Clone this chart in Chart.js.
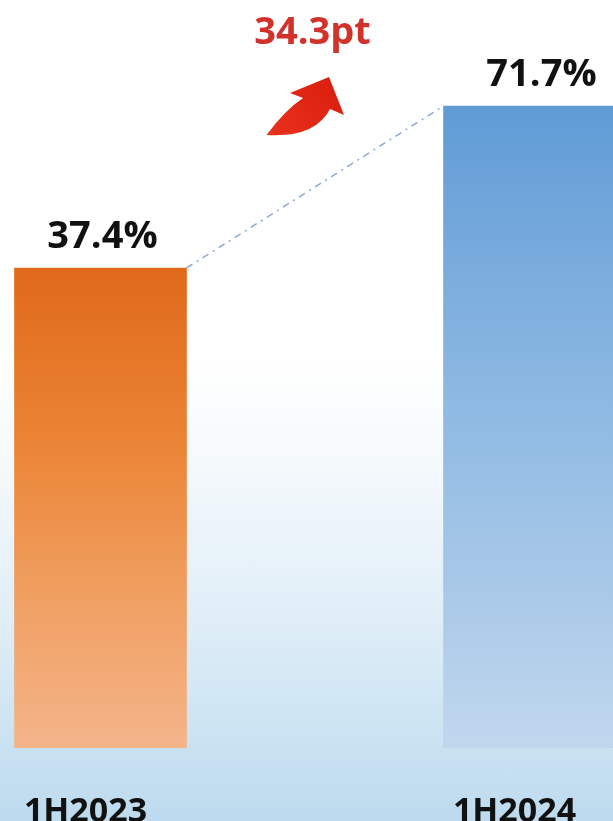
<!DOCTYPE html>
<html>
<head>
<meta charset="utf-8">
<script src="https://cdn.jsdelivr.net/npm/chart.js@4/dist/chart.umd.min.js"></script>
<style>
  html, body { margin: 0; padding: 0; }
  #frame {
    position: relative;
    width: 613px;
    height: 821px;
    overflow: hidden;
    background: linear-gradient(to bottom, #ffffff 0%, #ffffff 44%, #f4f9fc 57%, #e0eef8 75%, #c9e2f2 91%, #bddaee 100%);
  }
  #rateChart { position: absolute; left: -114.5px; top: 0; }
</style>
</head>
<body>
<div id="frame">
  <canvas id="rateChart" width="858" height="821"></canvas>
</div>
<script>
// half-year values
const periods = ['1H2023', '1H2024'];
const rates = [37.4, 71.7];
const rateLabels = ['37.4%', '71.7%'];
const changeLabel = '34.3pt';

// hidden value axis range
const Y_MIN = -64.25;
const Y_MAX = 94.15;

Chart.defaults.font.family = "'Open Sans', 'Noto Sans', sans-serif";

const barStops = [
    [[0, '#dc5f12'], [0.36, '#e0691b'], [0.6, '#eb8537'], [0.8, '#f0a062'], [1, '#f4b48a']],
    [[0, '#5593d2'], [0.14, '#5f9bd6'], [0.36, '#7aacdd'], [0.6, '#94bde4'], [0.8, '#aac9e8'], [1, '#c1d7ee']]
];

function barFill(context) {
    const stops = barStops[context.dataIndex] || barStops[0];
    const chart = context.chart;
    const area = chart.chartArea;
    if (!area) return stops[0][1];
    const g = chart.ctx.createLinearGradient(0, area.top, 0, area.bottom);
    stops.forEach(s => g.addColorStop(s[0], s[1]));
    return g;
}

// dash-dot connector, value labels and the change arrow
const overlayPlugin = {
    id: 'overlay',
    afterDatasetsDraw(chart) {
        const ctx = chart.ctx;
        const bars = chart.getDatasetMeta(0).data;
        const a = bars[0], b = bars[1];

        ctx.save();
        ctx.strokeStyle = '#8ea9d0';
        ctx.lineWidth = 1.5;
        ctx.setLineDash([7, 5, 2, 5]);
        ctx.beginPath();
        ctx.moveTo(a.x + a.width / 2, a.y);
        ctx.lineTo(b.x - b.width / 2, b.y);
        ctx.stroke();
        ctx.restore();

        ctx.save();
        ctx.font = "bold 38px 'Open Sans', sans-serif";
        ctx.fillStyle = '#111111';
        ctx.textAlign = 'center';
        ctx.textBaseline = 'alphabetic';
        const dx = [2, 12];
        bars.forEach((bar, i) => {
            ctx.fillText(rateLabels[i], bar.x + dx[i], bar.y - 20);
        });
        ctx.restore();

        // arrow sits between the bars, above the connector
        const mx = (a.x + a.width / 2 + b.x - b.width / 2) / 2;
        const top = b.y;
        ctx.save();
        ctx.translate(mx, top);
        const grad = ctx.createLinearGradient(-48, 30, 30, -30);
        grad.addColorStop(0, '#e8321c');
        grad.addColorStop(1, '#d91c0c');
        ctx.fillStyle = grad;
        ctx.beginPath();
        ctx.moveTo(-48.5, 29);
        ctx.quadraticCurveTo(-30, 4, -12, -8);
        ctx.lineTo(-25, -13);
        ctx.lineTo(14, -29);
        ctx.lineTo(29, 9);
        ctx.lineTo(15, 3);
        ctx.quadraticCurveTo(0, 32, -48.5, 29);
        ctx.closePath();
        ctx.fill();

        ctx.font = "bold 38px 'Open Sans', sans-serif";
        ctx.fillStyle = '#d2322a';
        ctx.textAlign = 'center';
        ctx.textBaseline = 'alphabetic';
        ctx.fillText(changeLabel, -2.5, -62);
        ctx.restore();
    }
};

const ctx = document.getElementById('rateChart');

new Chart(ctx, {
    type: 'bar',
    data: {
        labels: periods,
        datasets: [{
            data: rates,
            base: Y_MIN,
            backgroundColor: barFill,
            borderWidth: 0,
            barThickness: 172
        }]
    },
    options: {
        responsive: false,
        animation: false,
        layout: { padding: 0 },
        plugins: {
            legend: { display: false },
            tooltip: { enabled: false }
        },
        scales: {
            x: {
                grid: { display: false, drawTicks: false },
                border: { display: false },
                ticks: {
                    color: '#111111',
                    font: { size: 34, weight: 'bold' },
                    padding: 44,
                    labelOffset: -15,
                    maxRotation: 0
                },
                afterFit(scale) { scale.height = 73; }
            },
            y: {
                display: false,
                min: Y_MIN,
                max: Y_MAX
            }
        }
    },
    plugins: [overlayPlugin]
});
</script>
</body>
</html>
